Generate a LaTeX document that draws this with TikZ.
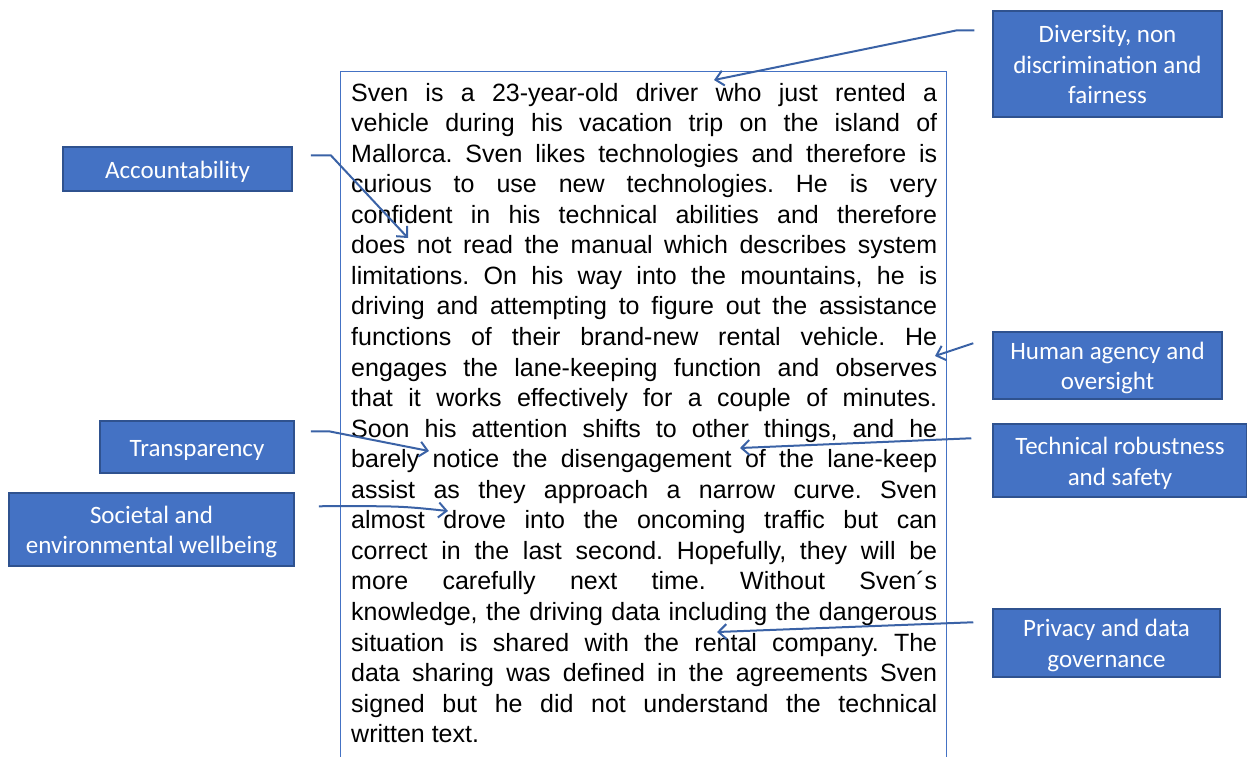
\documentclass[tikz,border=0pt]{standalone}
\usepackage{fontspec}
\usetikzlibrary{arrows.meta,calc}
\newfontfamily\storyfont{Liberation Sans}
\newfontfamily\lblfont{Carlito}
\definecolor{boxfill}{HTML}{4472C4}
\definecolor{boxline}{HTML}{2F528F}
\definecolor{linkc}{HTML}{3A62A6}
\definecolor{framec}{HTML}{4472C4}
% one justified line of the story
\newcommand\jline[1]{\hbox to \hsize{#1}}
% centred label lines, set a little below the box centre
\newcommand\lbl[2][3pt]{\raisebox{-#1}[\height][\depth]{%
  \begin{tabular}{@{}c@{}}#2\end{tabular}}}
\tikzset{
  value/.style={rectangle, draw=boxline, line width=1.5pt, fill=boxfill,
    text=white, inner sep=0pt,
    font=\lblfont\fontsize{25}{30.5}\selectfont},
  link/.style={draw=linkc, line width=2pt,
    -{Straight Barb[length=8pt,width=15pt,line width=2pt]}}
}
\begin{document}
\begin{tikzpicture}[x=1pt,y=-1pt]
\useasboundingbox (0,0) rectangle (1247,756);

% frame round the story
\draw[framec, line width=1pt] (340.5,770) |- (946,71) -- (946,770);

% the story, set line by line
\node[anchor=base west, inner sep=0pt] (story) at (351,101) {\vtop{%
  \hsize=586pt \storyfont\fontsize{25}{30.56}\selectfont\frenchspacing
  \baselineskip=30.56pt \lineskiplimit=-100pt
  \jline{Sven is a 23-year-old driver who just rented a}
  \jline{vehicle during his vacation trip on the island of}
  \jline{Mallorca. Sven likes technologies and therefore is}
  \jline{curious to use new technologies. He is very}
  \jline{confident in his technical abilities and therefore}
  \jline{does not read the manual which describes system}
  \jline{limitations. On his way into the mountains, he is}
  \jline{driving and attempting to figure out the assistance}
  \jline{functions of their brand-new rental vehicle. He}
  \jline{engages the lane-keeping function and observes}
  \jline{that it works effectively for a couple of minutes.}
  \jline{Soon his attention shifts to other things, and he}
  \jline{barely notice the disengagement of the lane-keep}
  \jline{assist as they approach a narrow curve. Sven}
  \jline{almost drove into the oncoming traffic but can}
  \jline{correct in the last second. Hopefully, they will be}
  \jline{more carefully next time. Without Sven´s}
  \jline{knowledge, the driving data including the dangerous}
  \jline{situation is shared with the rental company. The}
  \jline{data sharing was defined in the agreements Sven}
  \jline{signed but he did not understand the technical}
  \hbox{written text.}}};

% requirement labels
\node[value, minimum width=229, minimum height=106] (div) at (1107.5,64)
  {\lbl[3pt]{Diversity, non\\discrimination and\\fairness}};
\node[value, minimum width=229, minimum height=44] (acc) at (177.5,169)
  {\lbl{Accountability}};
\node[value, minimum width=229, minimum height=67] (hum) at (1107.5,365.5)
  {\lbl{Human agency and\\oversight}};
\node[value, minimum width=194, minimum height=52] (tra) at (197,447)
  {\lbl{Transparency}};
\node[value, minimum width=254, minimum height=73] (tech) at (1120,460.5)
  {\lbl[3.5pt]{Technical robustness\\and safety}};
\node[value, minimum width=285, minimum height=73] (soc) at (151.5,529.5)
  {\lbl{Societal and\\environmental wellbeing}};
\node[value, minimum width=227, minimum height=68] (pri) at (1106.5,643)
  {\lbl{Privacy and data\\governance}};

% connector starts beside each label and tips inside the story
\coordinate (divS)  at ([shift={(-18,20)}]div.north west);
\coordinate (accS)  at ([shift={(18,9)}]acc.north east);
\coordinate (humS)  at ([shift={(-19,12)}]hum.north west);
\coordinate (traS)  at ([shift={(16,11)}]tra.north east);
\coordinate (socS)  at ([shift={(24,14)}]soc.north east);
\coordinate (techS) at ([shift={(-21,15)}]tech.north west);
\coordinate (priS)  at ([shift={(-19,14)}]pri.north west);

\coordinate (divT)  at (714,80);
\coordinate (accT)  at (408,238);
\coordinate (humT)  at (935,356);
\coordinate (traT)  at (429,451);
\coordinate (socT)  at (448,511);
\coordinate (techT) at (740,448);
\coordinate (priT)  at (717,632);

\draw[link] (divS) -- ++(-17,0) -- (divT);
\draw[link] (accS) -- ++(20,0) -- (accT);
\draw[link] (humS) -- (humT);
\draw[link] (traS) -- ++(18,0) -- (traT);
\draw[link] (socS) .. controls (400,506) .. (socT);
\draw[link] (techS) -- (techT);
\draw[link] (priS) -- (priT);
\end{tikzpicture}
\end{document}
